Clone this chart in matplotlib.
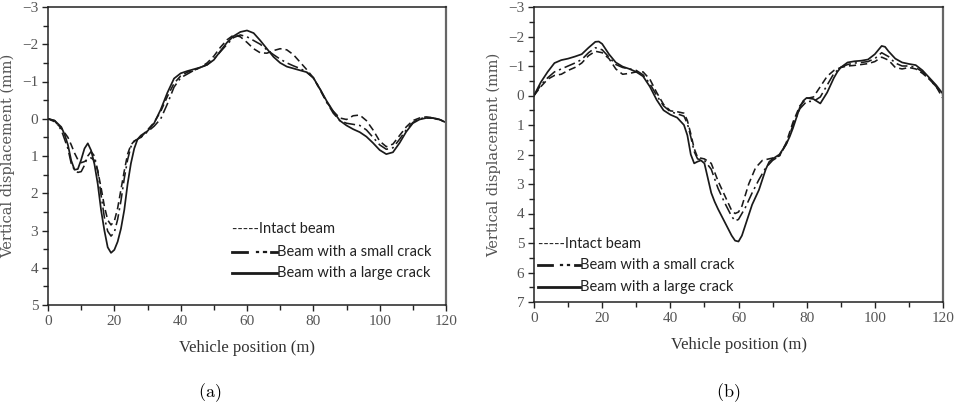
import matplotlib
matplotlib.use("Agg")
import matplotlib.pyplot as plt
from matplotlib.ticker import MultipleLocator

plt.rcParams['mathtext.fontset'] = 'cm'

# ---------------- panel (a) ----------------
a_intact_x = [0, 2, 4, 6, 7, 8, 9, 10, 11, 12, 13, 14, 15, 16, 17, 18, 19, 20, 21, 22, 23, 24, 25, 26, 28,
              30, 32, 34, 36, 38, 40, 42, 44, 46, 48, 50, 52, 54, 56, 58, 60, 62, 64, 66, 68, 70, 72, 74,
              76, 78, 80, 82, 84, 86, 88, 90, 92, 94, 96, 98, 100, 102, 104, 106, 108, 110, 112, 114, 116,
              118, 120]
a_intact_y = [0, 0.08, 0.25, 0.5, 0.7, 0.92, 1.1, 1.18, 1.15, 1.08, 1.05, 1.12, 1.4, 1.85, 2.35, 2.72, 2.85,
              2.75, 2.4, 1.9, 1.4, 0.95, 0.7, 0.6, 0.5, 0.3, 0.1, -0.2, -0.6, -0.95, -1.15, -1.25, -1.3,
              -1.38, -1.5, -1.68, -1.92, -2.12, -2.25, -2.2, -2.05, -1.88, -1.77, -1.76, -1.83, -1.88, -1.85,
              -1.72, -1.52, -1.32, -1.1, -0.78, -0.45, -0.2, -0.02, 0.02, -0.08, -0.1, 0.05, 0.3, 0.6,
              0.75, 0.68, 0.45, 0.22, 0.05, -0.02, -0.05, -0.03, 0.02, 0.08]

a_small_x = [0, 2, 4, 6, 7, 8, 9, 10, 11, 12, 13, 14, 15, 16, 17, 18, 19, 20, 21, 22, 23, 24, 25, 26, 28,
             30, 32, 34, 36, 38, 40, 42, 44, 46, 48, 50, 52, 54, 56, 58, 60, 62, 64, 66, 68, 70, 72, 74,
             76, 78, 80, 82, 84, 86, 88, 90, 92, 94, 96, 98, 100, 102, 104, 106, 108, 110, 112, 114, 116,
             118, 120]
a_small_y = [0, 0.05, 0.3, 0.8, 1.2, 1.38, 1.44, 1.42, 1.25, 1.0, 0.88, 1.0, 1.4, 2.05, 2.65, 3.02, 3.15,
             3.05, 2.7, 2.2, 1.6, 1.1, 0.75, 0.6, 0.5, 0.35, 0.2, 0.0, -0.4, -0.85, -1.1, -1.2, -1.3,
             -1.38, -1.45, -1.6, -1.8, -2.0, -2.18, -2.25, -2.2, -2.1, -2.0, -1.85, -1.72, -1.6, -1.5,
             -1.42, -1.35, -1.25, -1.1, -0.8, -0.45, -0.15, 0.05, 0.12, 0.15, 0.18, 0.3, 0.5, 0.7,
             0.82, 0.78, 0.55, 0.3, 0.1, 0.0, -0.03, -0.02, 0.03, 0.1]

a_large_x = [0, 2, 4, 5, 6, 7, 8, 9, 10, 11, 12, 13, 14, 15, 16, 17, 18, 19, 20, 21, 22, 23, 24, 25, 26,
             27, 28, 30, 32, 34, 36, 38, 40, 42, 44, 46, 48, 50, 52, 54, 56, 58, 60, 62, 64, 66, 68, 70,
             72, 74, 76, 78, 80, 82, 84, 86, 88, 90, 92, 94, 96, 98, 100, 102, 104, 106, 108, 110, 112,
             114, 116, 118, 120]
a_large_y = [0, 0.05, 0.22, 0.42, 0.7, 1.12, 1.37, 1.35, 1.1, 0.8, 0.66, 0.85, 1.22, 1.75, 2.45, 3.0, 3.45,
             3.6, 3.52, 3.3, 2.95, 2.45, 1.75, 1.2, 0.8, 0.55, 0.45, 0.33, 0.12, -0.25, -0.7, -1.08,
             -1.22, -1.28, -1.33, -1.38, -1.45, -1.58, -1.82, -2.05, -2.22, -2.33, -2.37, -2.3, -2.1,
             -1.88, -1.66, -1.5, -1.4, -1.35, -1.3, -1.25, -1.1, -0.8, -0.48, -0.2, 0.05, 0.18, 0.28,
             0.36, 0.48, 0.65, 0.84, 0.95, 0.9, 0.65, 0.35, 0.12, 0.02, -0.02, -0.02, 0.02, 0.1]

# ---------------- panel (b) ----------------
b_intact_x = [0, 2, 4, 6, 8, 10, 12, 14, 16, 18, 20, 22, 24, 26, 28, 30, 32, 34, 36, 38, 40, 42, 44, 45,
              46, 47, 48, 50, 52, 54, 56, 58, 59, 60, 61, 63, 65, 67, 70, 72, 74, 76, 78, 80, 82, 84, 86,
              88, 90, 92, 94, 96, 98, 100, 102, 104, 106, 108, 110, 112, 114, 116, 118, 120]
b_intact_y = [0, -0.3, -0.55, -0.68, -0.72, -0.85, -0.95, -1.1, -1.35, -1.5, -1.45, -1.25, -0.9, -0.72,
              -0.75, -0.8, -0.8, -0.55, -0.1, 0.3, 0.52, 0.55, 0.6, 0.85, 1.3, 1.8, 2.1, 2.15, 2.3, 2.9,
              3.4, 3.9, 4.0, 3.95, 3.75, 3.0, 2.45, 2.2, 2.12, 2.05, 1.6, 0.9, 0.35, 0.1, 0.05, -0.3,
              -0.65, -0.85, -0.95, -1.0, -1.02, -1.05, -1.08, -1.15, -1.3, -1.2, -0.95, -0.9, -0.95,
              -0.9, -0.75, -0.55, -0.3, 0.1]

b_small_x = [0, 2, 4, 6, 8, 10, 12, 14, 16, 18, 20, 22, 24, 26, 28, 30, 32, 34, 36, 38, 40, 42, 44, 45,
             46, 47, 48, 50, 52, 54, 56, 58, 59, 60, 62, 64, 66, 68, 70, 72, 74, 76, 78, 80, 82, 84, 86,
             88, 90, 92, 94, 96, 98, 100, 102, 104, 106, 108, 110, 112, 114, 116, 118, 120]
b_small_y = [0, -0.35, -0.6, -0.8, -0.9, -1.0, -1.1, -1.22, -1.45, -1.62, -1.55, -1.3, -1.05, -0.95, -0.9,
             -0.85, -0.7, -0.4, 0.0, 0.35, 0.55, 0.62, 0.7, 0.95, 1.4, 1.9, 2.15, 2.2, 2.5, 3.15, 3.65,
             4.1, 4.25, 4.2, 3.8, 3.3, 2.85, 2.45, 2.2, 2.05, 1.65, 1.0, 0.45, 0.2, 0.2, 0.05, -0.35,
             -0.75, -0.95, -1.05, -1.1, -1.12, -1.15, -1.25, -1.45, -1.32, -1.1, -1.0, -1.0, -0.95,
             -0.8, -0.55, -0.3, 0.0]

b_large_x = [0, 2, 4, 6, 8, 10, 12, 14, 16, 18, 19, 20, 22, 24, 26, 28, 30, 32, 34, 36, 38, 40, 42, 44,
             45, 46, 47, 48, 49, 50, 51, 52, 53, 54, 56, 58, 59, 60, 61, 62, 64, 66, 67, 68, 69, 70, 72,
             74, 75, 76, 77, 78, 79, 80, 82, 84, 86, 88, 89, 90, 92, 94, 96, 98, 100, 102, 103, 104, 106,
             108, 110, 112, 114, 116, 118, 120]
b_large_y = [0, -0.45, -0.8, -1.1, -1.2, -1.25, -1.32, -1.4, -1.62, -1.82, -1.83, -1.75, -1.4, -1.12,
             -0.98, -0.9, -0.8, -0.65, -0.3, 0.15, 0.5, 0.65, 0.75, 1.0, 1.35, 2.0, 2.3, 2.24, 2.2, 2.3,
             2.8, 3.3, 3.6, 3.85, 4.3, 4.75, 4.92, 4.95, 4.75, 4.4, 3.7, 3.2, 2.85, 2.5, 2.25, 2.15,
             2.0, 1.65, 1.4, 1.1, 0.75, 0.4, 0.18, 0.08, 0.12, 0.27, -0.1, -0.6, -0.8, -0.95, -1.12,
             -1.16, -1.18, -1.22, -1.4, -1.68, -1.65, -1.5, -1.25, -1.12, -1.07, -1.03, -0.85, -0.6,
             -0.35, -0.05]

x_limits = (0, 120)
a_ylim = (5, -3)
b_ylim = (7, -3)
x_label = "Vehicle position (m)"
y_label = "Vertical displacement (mm)"
legend_labels = ["Intact beam", "Beam with a small crack", "Beam with a large crack"]
captions = ["(a)", "(b)"]

INK = "#1a1a1a"
intact_style = dict(color=INK, lw=1.15, linestyle=(0, (4.5, 2.5)))
small_style = dict(color=INK, lw=1.15, linestyle=(0, (7, 2.5, 1.3, 2.5)))
large_style = dict(color=INK, lw=1.25, linestyle="-")

fig = plt.figure(figsize=(9.55, 4.08), dpi=100)
ax_a = fig.add_axes([48 / 955, 1 - 305 / 408, 398 / 955, 298 / 408])
ax_b = fig.add_axes([534 / 955, 1 - 302 / 408, 409 / 955, 295 / 408])


def style_axes(ax, ylim):
    ax.set_xlim(*x_limits)
    ax.set_ylim(*ylim)
    ax.xaxis.set_major_locator(MultipleLocator(20))
    ax.xaxis.set_minor_locator(MultipleLocator(10))
    ax.yaxis.set_major_locator(MultipleLocator(1))
    ax.yaxis.set_minor_locator(MultipleLocator(0.5))
    ax.tick_params(which="both", direction="out", color="#222", width=1.0,
                   labelcolor="#555", labelsize=11, top=False, right=False)
    ax.tick_params(which="major", length=4, pad=3)
    ax.tick_params(which="minor", length=3.5)
    for lbl in ax.get_xticklabels() + ax.get_yticklabels():
        lbl.set_family("Liberation Serif")
    for side in ("left", "bottom", "top"):
        ax.spines[side].set_color("#222")
        ax.spines[side].set_linewidth(1.1)
    ax.spines["right"].set_color("#666")
    ax.spines["right"].set_linewidth(1.6)
    ax.set_xlabel(x_label, family="Liberation Serif", fontsize=12, color="#333", labelpad=9)
    ax.set_ylabel(y_label, family="DejaVu Serif", fontsize=10.5, color="#555", labelpad=5)


def draw_key(ax, x0, x_short, x1, rows):
    """Hand-drawn key: a text dash run, a dash-dot sample and a solid sample."""
    tr = ax.transAxes
    font = dict(family="Lato", fontsize=10.5, color="#222", va="center", transform=tr)
    ax.text(x0, rows[0], "-----" + legend_labels[0], **font)
    span = x1 - x0
    ax.plot([x0, x0 + span * 0.33], [rows[1], rows[1]], color=INK, lw=2, transform=tr, clip_on=False)
    for f in (0.55, 0.72):
        ax.plot([x0 + span * f, x0 + span * (f + 0.03)], [rows[1], rows[1]], color=INK, lw=1.6,
                transform=tr, clip_on=False)
    ax.plot([x0 + span * 0.88, x1], [rows[1], rows[1]], color=INK, lw=2, transform=tr, clip_on=False)
    ax.text(x1, rows[1], legend_labels[1], **font)
    ax.plot([x0, x1], [rows[2], rows[2]], color=INK, lw=2, transform=tr, clip_on=False)
    ax.text(x1, rows[2], legend_labels[2], **font)


for ax, ylim, series in (
    (ax_a, a_ylim, ((a_intact_x, a_intact_y), (a_small_x, a_small_y), (a_large_x, a_large_y))),
    (ax_b, b_ylim, ((b_intact_x, b_intact_y), (b_small_x, b_small_y), (b_large_x, b_large_y))),
):
    (xi, yi), (xs, ys), (xl, yl) = series
    ax.plot(xi, yi, **intact_style)
    ax.plot(xs, ys, **small_style)
    ax.plot(xl, yl, **large_style)
    style_axes(ax, ylim)

draw_key(ax_a, 0.462, 0.520, 0.575, (0.255, 0.178, 0.107))
draw_key(ax_b, 0.010, 0.061, 0.112, (0.197, 0.125, 0.051))

fig.text(210 / 955, 1 - 393 / 408, r"$\mathrm{" + captions[0] + "}$", ha="center", va="center", fontsize=13)
fig.text(728 / 955, 1 - 393 / 408, r"$\mathrm{" + captions[1] + "}$", ha="center", va="center", fontsize=13)

fig.savefig("out.png", dpi=100)
